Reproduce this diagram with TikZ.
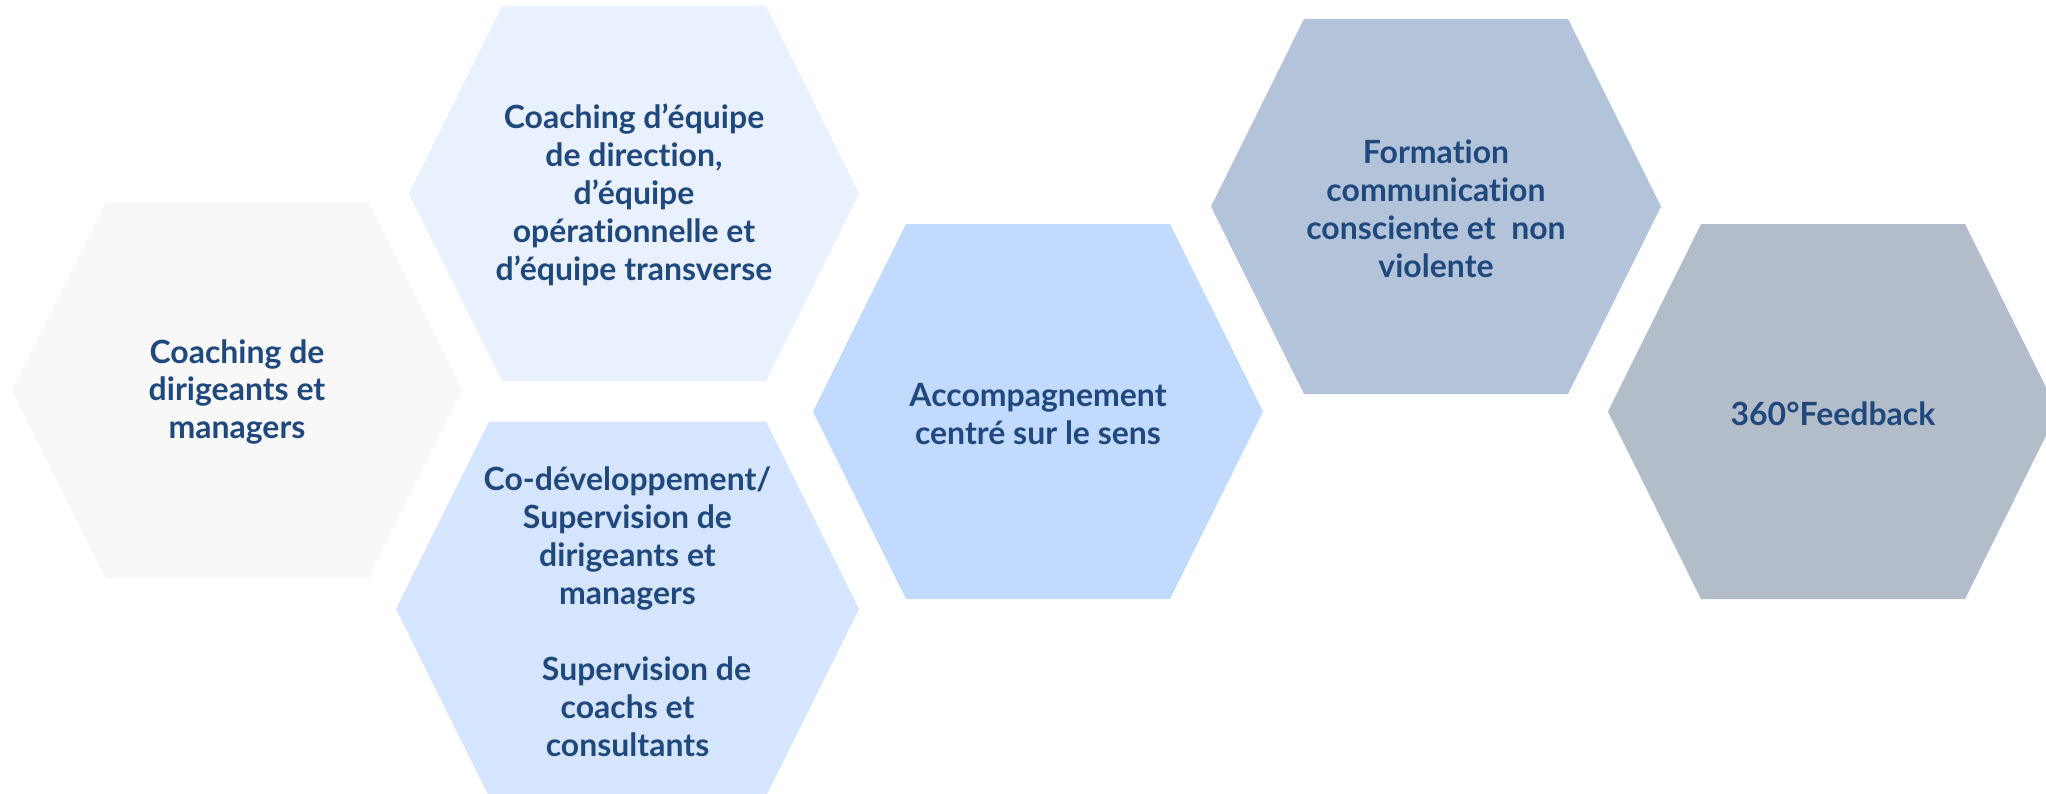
\documentclass[tikz,border=0pt]{standalone}
\usepackage{fontspec}
\setmainfont[Ligatures={NoCommon}]{Lato}
\definecolor{hexgrey}{HTML}{F8F8F8}
\definecolor{hexpale}{HTML}{EAF1FE}
\definecolor{hexlight}{HTML}{D5E5FD}
\definecolor{hexmid}{HTML}{C1DAFD}
\definecolor{hexslate}{HTML}{B3C3D9}
\definecolor{hexstone}{HTML}{B3BCC9}
\definecolor{hextext}{HTML}{1F497D}
\begin{document}
\begin{tikzpicture}[x=0.02cm,y=-0.02cm,
    txt/.style={text=hextext,font=\bfseries\fontsize{18.2}{21.6}\selectfont,align=center,inner sep=0pt}]
            \def\hh{187.5}
            \useasboundingbox (0,0) rectangle (2046,794);
            \clip (0,0) rectangle (2046,794);
            % hexagons: centre x / centre y / half width / half top / colour
            \foreach \cx/\cy/\a/\b/\col in {237/390.5/225/131.5/hexgrey, 634/193.5/225/132/hexpale,
                627.5/609/231.5/138.5/hexlight, 1038/411.5/225/132/hexmid,
                1436/206.5/225/132/hexslate, 1833/411.5/225/132/hexstone}
            \fill[\col] (\cx-\a,\cy)--(\cx-\b,\cy-\hh)--(\cx+\b,\cy-\hh)--(\cx+\a,\cy)
                --(\cx+\b,\cy+\hh)--(\cx-\b,\cy+\hh)--cycle;
            \node[txt] (dirigeants) at (237,392) {Coaching de\\dirigeants et\\managers};
            \node[txt] (equipe) at (634,195) {Coaching d’équipe\\de direction,\\d’équipe\\opérationnelle et\\d’équipe transverse};
            \node[txt] (codev) at (627.5,612) {Co-développement/\\Supervision de\\dirigeants et\\managers\\[0.76cm]\hspace*{0.76cm}Supervision de\\coachs et\\consultants};
            \node[txt] (sens) at (1038,414) {Accompagnement\\centré sur le sens};
            \node[txt] (cnv) at (1436,209) {Formation\\communication\\consciente et\ \ non\\violente};
            \node[txt] (feedback) at (1833,414) {360°Feedback};
    \end{tikzpicture}
\end{document}
